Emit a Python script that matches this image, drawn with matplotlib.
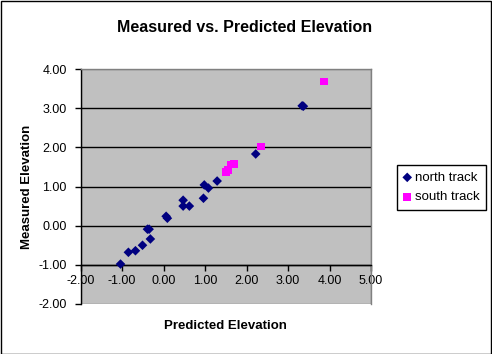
import matplotlib
matplotlib.use("Agg")
import matplotlib.pyplot as plt
from matplotlib.patches import Rectangle

plt.rcParams['font.family'] = ['Liberation Sans', 'DejaVu Sans']

north_x = [-1.04, -0.85, -0.68, -0.51, -0.39, -0.35, -0.32, 0.06, 0.09, 0.47, 0.47, 0.62,
           0.96, 0.98, 1.08, 1.29, 2.22, 3.34, 3.37]
north_y = [-0.98, -0.68, -0.64, -0.50, -0.09, -0.09, -0.34, 0.24, 0.19, 0.65, 0.50, 0.50,
           0.70, 1.04, 0.96, 1.14, 1.83, 3.06, 3.05]
south_x = [1.50, 1.56, 1.62, 1.69, 2.35, 3.87]
south_y = [1.36, 1.42, 1.56, 1.58, 2.02, 3.68]

xticks = [-2, -1, 0, 1, 2, 3, 4, 5]
yticks = [-2, -1, 0, 1, 2, 3, 4]

fig = plt.figure(figsize=(4.92, 3.54), dpi=100)
ax = fig.add_axes([80.7/492, 1-304/354, (371-80.7)/492, (304-69)/354])
ax.set_facecolor('#C0C0C0')

ax.scatter(north_x, north_y, marker='D', s=24, color='#000080', edgecolors='none',
           label='north track', zorder=3, clip_on=False)
ax.scatter(south_x, south_y, marker='s', s=32, color='#FF00FF', edgecolors='none',
           label='south track', zorder=3, clip_on=False)

ax.set_xlim(-2, 5)
ax.set_ylim(-2, 4)
ax.set_xticks(xticks)
ax.set_yticks(yticks)
ax.set_xticklabels([f"{v:.2f}" for v in xticks])
ax.set_yticklabels([f"{v:.2f}" for v in yticks])

ax.yaxis.grid(True, color='black', linewidth=1)
gl = ax.get_ygridlines()
gl[0].set_visible(False)
gl[-1].set_visible(False)
ax.set_axisbelow(True)

for s in ['top', 'right']:
    ax.spines[s].set_color('#808080')
    ax.spines[s].set_linewidth(1)
ax.spines['left'].set_color('black')
ax.spines['left'].set_linewidth(1)
ax.spines['bottom'].set_position(('data', -1))
ax.spines['bottom'].set_color('black')
ax.spines['bottom'].set_linewidth(1)
ax.add_patch(Rectangle((0, 0), 1, 1, transform=ax.transAxes, fill=False,
                       edgecolor='#808080', linewidth=1, zorder=0.5))

ax.tick_params(axis='both', direction='out', length=4, width=1, labelsize=9, colors='black')
ax.tick_params(axis='x', pad=3)
ax.tick_params(axis='y', pad=6)

ax.set_xlabel('Predicted Elevation', fontsize=9.5, fontweight='bold')
ax.xaxis.label.set_verticalalignment('center')
ax.xaxis.set_label_coords(0.5, 1 - (326 - 69) / (304 - 69))
ax.set_ylabel('Measured Elevation', fontsize=9.5, fontweight='bold')
ax.yaxis.set_label_coords((27 - 80.7) / (371 - 80.7), 0.5)
ax.yaxis.label.set_verticalalignment('center')

fig.text(245/492, 1-28/354, 'Measured vs. Predicted Elevation', fontsize=11.5,
         fontweight='bold', ha='center', va='center')

leg = fig.legend(loc='upper left', bbox_to_anchor=(397/492, 1-165/354), fontsize=9.5,
                 frameon=True, fancybox=False, edgecolor='black', framealpha=1,
                 borderpad=0.5, handletextpad=0.3, handlelength=0.55, labelspacing=0.55,
                 borderaxespad=0)
leg.get_frame().set_linewidth(1)

fig.patches.append(Rectangle((0.5/492, 0.5/354), 1-1.5/492, 1-1.5/354, transform=fig.transFigure,
                             fill=False, edgecolor='black', linewidth=1))

fig.savefig('out.png', dpi=100)
